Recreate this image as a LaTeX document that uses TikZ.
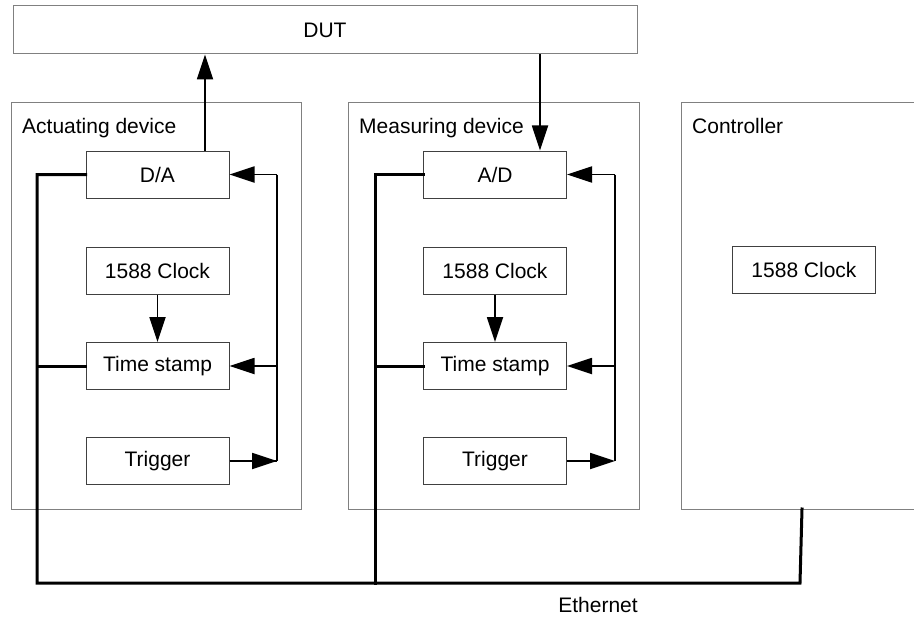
\documentclass[tikz,border=0pt]{standalone}
\usepackage{fontspec}
\setmainfont{Liberation Sans}
\usetikzlibrary{arrows.meta}
\definecolor{outergray}{HTML}{808080}
\definecolor{innergray}{HTML}{404040}
\tikzset{
  outerbox/.style={draw=outergray, line width=1pt, rectangle, inner sep=0pt},
  unitbox/.style={draw=innergray, line width=1pt, rectangle, minimum width=143pt, minimum height=47pt, inner sep=0pt},
  conn/.style={line width=1.8pt, black},
  arr/.style={conn, -{Triangle[length=25pt,width=16pt]}},
  bus/.style={line width=3pt, black, line cap=rect},
  lbl/.style={anchor=base west, inner sep=0pt},
  every node/.style={font=\fontsize{21}{25}\selectfont}
}
\begin{document}
\begin{tikzpicture}[x=1pt,y=-1pt]
\useasboundingbox (0,0) rectangle (914,618);
% DUT
\node[outerbox, minimum width=624pt, minimum height=48pt] (dut) at (325,30) {DUT};
% containers
\node[outerbox, minimum width=290pt, minimum height=406pt] (act) at (156,306) {};
\node[outerbox, minimum width=291pt, minimum height=406pt] (meas) at (493.5,306) {};
\node[outerbox, minimum width=259pt, minimum height=406pt] (ctrl) at (810.5,306) {};
\node[lbl] (actlbl) at (22,133) {Actuating device};
\node[lbl] (measlbl) at (359,133) {Measuring device};
\node[lbl] (ctrllbl) at (692,133) {Controller};
% actuating units
\node[unitbox] (da) at (157.5,174.5) {D/A};
\node[unitbox] (aclk) at (157.5,270.5) {1588 Clock};
\node[unitbox] (ats) at (157.5,366) {Time stamp};
\node[unitbox] (atrg) at (157.5,461) {Trigger};
% measuring units
\node[unitbox] (ad) at (495,174.5) {A/D};
\node[unitbox] (mclk) at (495,270.5) {1588 Clock};
\node[unitbox] (mts) at (495,366) {Time stamp};
\node[unitbox] (mtrg) at (495,461) {Trigger};
% controller clock
\node[unitbox] (cclk) at (804,270) {1588 Clock};
% Ethernet label
\node (eth) at (598,605) {Ethernet};
% coordinates
\coordinate (afb) at (277,0);
\coordinate (mfb) at (615,0);
\coordinate (abus) at (37,583);
\coordinate (mbus) at (375,583);
\coordinate (cbus) at (800,583);
\coordinate (cport) at (802,509);
% DUT connections
\draw[arr] (da.north -| 205,0) -- (dut.south -| 205,0);
\draw[arr] (dut.south -| 540,0) -- (ad.north -| 540,0);
% actuating internal
\draw[arr] (aclk.south) -- (ats.north);
\draw[conn] (atrg.east) -- (atrg.east -| afb) coordinate (atb);
\draw[arr] (da.east -| afb) -- (da.east);
\draw[arr] (ats.east -| afb) -- (ats.east);
\draw[conn] (da.east -| afb) -- (atb);
\draw[arr] (atrg.east) -- (atrg.east -| afb);
% measuring internal
\draw[arr] (mclk.south) -- (mts.north);
\draw[conn] (ad.east -| mfb) -- (mtrg.east -| mfb);
\draw[arr] (ad.east -| mfb) -- (ad.east);
\draw[arr] (mts.east -| mfb) -- (mts.east);
\draw[arr] (mtrg.east) -- (mtrg.east -| mfb);
% Ethernet bus
\draw[bus] (da.west) -- (da.west -| abus) -- (abus) -- (cbus) -- (cport);
\draw[bus] (ats.west) -- (ats.west -| abus);
\draw[bus] (ad.west) -- (ad.west -| mbus) -- (mbus);
\draw[bus] (mts.west) -- (mts.west -| mbus);
\end{tikzpicture}
\end{document}
